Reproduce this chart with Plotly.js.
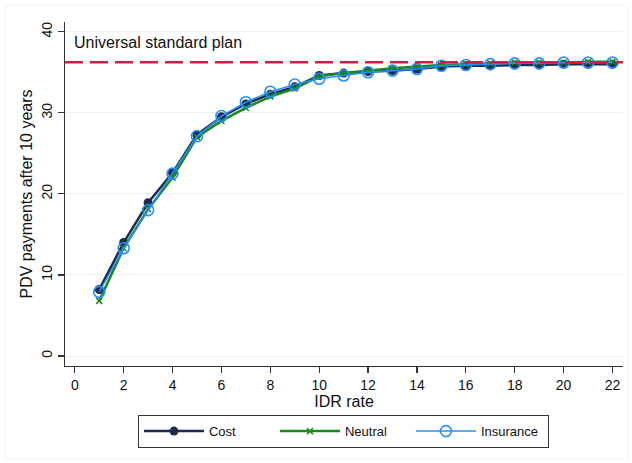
<!DOCTYPE html>
<html>
<head>
<meta charset="utf-8">
<script src="https://cdn.plot.ly/plotly-3.0.1.min.js"></script>
<style>
  html, body { margin: 0; padding: 0; background: #ffffff; }
  #chart { width: 632px; height: 463px; }
</style>
</head>
<body>
<div id="chart"></div>
<script>
const idrRate = [1, 2, 3, 4, 5, 6, 7, 8, 9, 10, 11, 12, 13, 14, 15, 16, 17, 18, 19, 20, 21, 22];
const costValues = [8.2, 14.0, 18.9, 22.6, 27.3, 29.5, 31.1, 32.3, 33.2, 34.6, 34.9, 35.1, 35.2, 35.4, 35.7, 35.8, 35.8, 35.9, 35.9, 36.0, 36.0, 36.0];
const neutralValues = [6.8, 13.3, 18.1, 22.0, 27.0, 29.0, 30.6, 32.0, 33.0, 34.5, 34.9, 35.2, 35.5, 35.7, 35.9, 36.0, 36.1, 36.2, 36.2, 36.2, 36.3, 36.3];
const insuranceValues = [7.9, 13.3, 18.0, 22.5, 27.1, 29.6, 31.3, 32.6, 33.5, 34.2, 34.6, 35.0, 35.2, 35.4, 35.8, 35.9, 36.0, 36.1, 36.1, 36.2, 36.2, 36.2];
const universalPlan = 36.25;
const xTicks = [0, 2, 4, 6, 8, 10, 12, 14, 16, 18, 20, 22];
const yTicks = [0, 10, 20, 30, 40];

const font = "Liberation Sans, Arial, sans-serif";

const traces = [
  {
    x: idrRate, y: costValues, name: "Cost", type: "scatter", mode: "lines+markers",
    line: { color: "#1e2a4f", width: 2.5 },
    marker: { symbol: "circle", size: 9, color: "#1e2a4f" }
  },
  {
    x: idrRate, y: neutralValues, name: "Neutral", type: "scatter", mode: "lines+markers",
    line: { color: "#1a8a1a", width: 2.5 },
    marker: { symbol: "x-thin", size: 6, line: { color: "#1a8a1a", width: 1.5 }, color: "#1a8a1a" }
  },
  {
    x: idrRate, y: insuranceValues, name: "Insurance", type: "scatter", mode: "lines+markers",
    line: { color: "#2290ff", width: 1.5 },
    marker: { symbol: "circle-open", size: 11, line: { color: "#2290ff", width: 1.6 }, color: "#2290ff" }
  }
];

const L = 64.5, R = 9, T = 21.7, B = 97;
const pw = 632 - L - R, ph = 463 - T - B;

const layout = {
  width: 632, height: 463,
  margin: { l: L, r: R, t: T, b: B },
  paper_bgcolor: "#ffffff", plot_bgcolor: "#ffffff",
  font: { family: font, color: "#111111", size: 14 },
  showlegend: true,
  xaxis: {
    range: [-0.4, 22.43],
    tickvals: xTicks,
    ticks: "outside", ticklen: 6, tickwidth: 1.2, tickcolor: "#333333",
    showline: true, linecolor: "#333333", linewidth: 1.2,
    showgrid: false, zeroline: false,
    tickfont: { family: font, size: 14, color: "#111111" },
    title: { text: "IDR rate", font: { family: font, size: 16, color: "#111111" }, standoff: 3 }
  },
  yaxis: {
    range: [-1.23, 41.2],
    tickvals: yTicks,
    tickangle: -90,
    ticks: "outside", ticklen: 6, tickwidth: 1.2, tickcolor: "#333333",
    showline: true, linecolor: "#333333", linewidth: 1.2,
    showgrid: true, gridcolor: "#e8f0f2", gridwidth: 1,
    zeroline: false,
    tickfont: { family: font, size: 14, color: "#111111" },
    title: { text: "PDV payments after 10 years", font: { family: font, size: 16, color: "#111111" }, standoff: 2 }
  },
  shapes: [
    {
      type: "line", xref: "paper", yref: "y",
      x0: 0, x1: 1, y0: universalPlan, y1: universalPlan,
      line: { color: "#cc1f48", width: 2.5, dash: "18px,7px" }
    },
    {
      type: "rect", xref: "paper", yref: "paper",
      x0: (5 - L) / pw, x1: (628 - L) / pw,
      y0: (463 - B - 459) / ph, y1: (463 - B - 5) / ph,
      line: { color: "#eef3f5", width: 1 }, fillcolor: "rgba(0,0,0,0)", layer: "below"
    }
  ],
  annotations: [
    {
      xref: "paper", yref: "y", x: (72 - L) / pw, y: 38.7,
      xanchor: "left", yanchor: "middle", showarrow: false,
      text: "Universal standard plan",
      font: { family: font, size: 16, color: "#111111" }
    }
  ],
  legend: {
    orientation: "h",
    x: (343 - L) / pw, xanchor: "center",
    y: (366 - 415) / ph, yanchor: "top",
    bordercolor: "#333333", borderwidth: 1.2,
    bgcolor: "#ffffff",
    itemwidth: 60,
    entrywidth: 61, entrywidthmode: "pixels",
    font: { family: font, size: 13, color: "#111111" },
    traceorder: "normal"
  }
};

Plotly.newPlot("chart", traces, layout, { displayModeBar: false, staticPlot: true });
</script>
</body>
</html>
